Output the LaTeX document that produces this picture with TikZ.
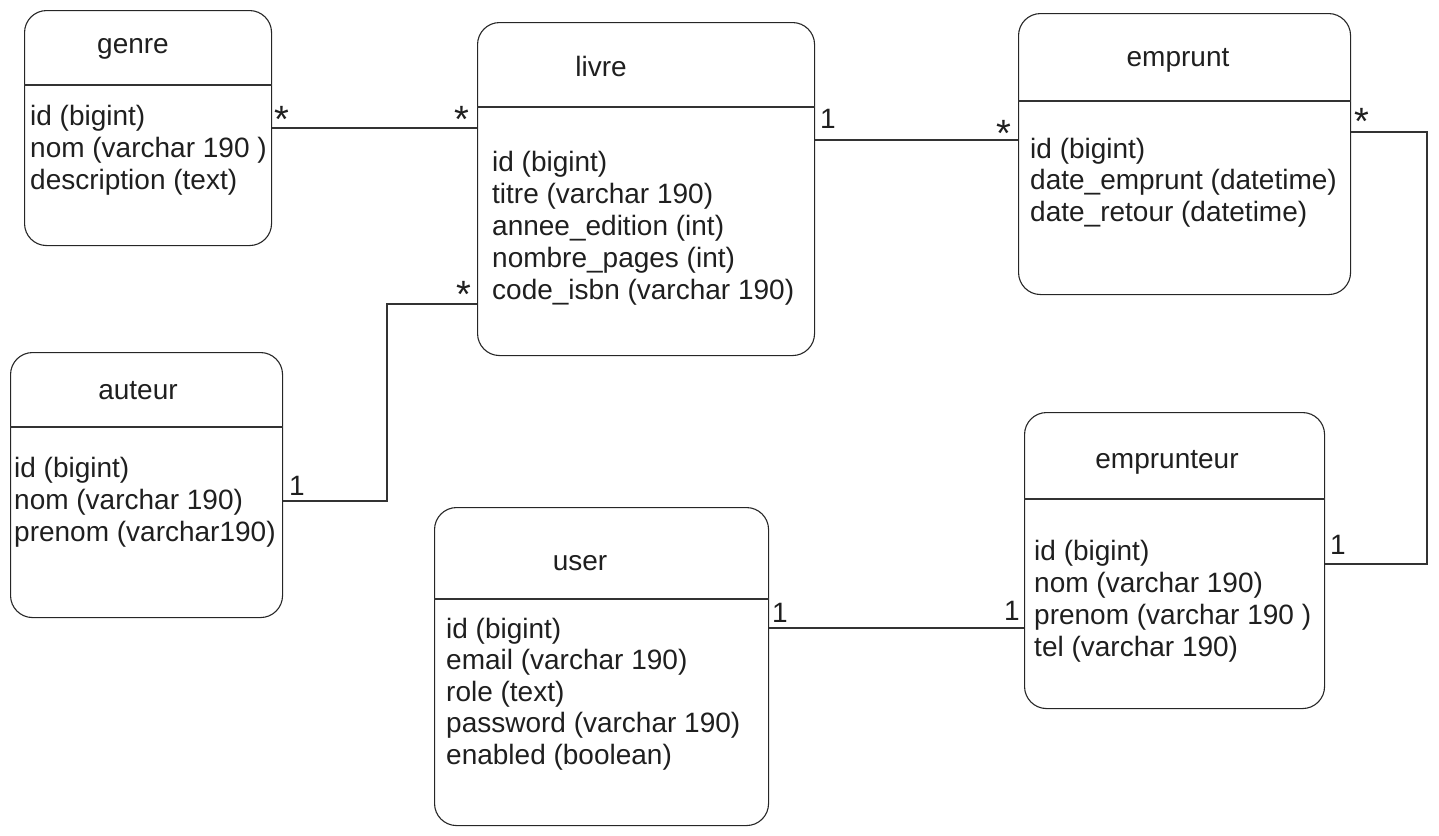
\documentclass[tikz,border=0pt]{standalone}
\usepackage{fontspec}
\setmainfont{Liberation Sans}
\usepackage{tikz}

\begin{document}
\begin{tikzpicture}[x=1pt,y=-1pt]
\tikzstyle{every node}+=[inner sep=0pt, font=\fontsize{28}{32}\selectfont, text=black!88]
\tikzstyle{entity}=[draw=black!85, line width=1.1pt, rounded corners=22pt, anchor=north west]
\tikzstyle{attr}=[anchor=base west]
\tikzstyle{title}=[anchor=base]
\tikzstyle{many}=[anchor=base, font=\fontsize{38}{40}\selectfont]
\tikzstyle{link}=[draw=black!80, line width=1.1pt]
\useasboundingbox (0,0) rectangle (1439,835);
\node[entity, minimum width=247pt, minimum height=235pt] (genre) at (24,10) {};
\node[entity, minimum width=337pt, minimum height=333pt] (livre) at (477,22) {};
\node[entity, minimum width=332pt, minimum height=281pt] (emprunt) at (1018,13) {};
\node[entity, minimum width=272pt, minimum height=265pt] (auteur) at (10,352) {};
\node[entity, minimum width=300pt, minimum height=296pt] (emprunteur) at (1024,412) {};
\node[entity, minimum width=334pt, minimum height=318pt] (user) at (434,507) {};
\draw[link] (genre.west |- 0,85) -- (genre.east |- 0,85);
\draw[link] (livre.west |- 0,107) -- (livre.east |- 0,107);
\draw[link] (emprunt.west |- 0,101) -- (emprunt.east |- 0,101);
\draw[link] (auteur.west |- 0,427) -- (auteur.east |- 0,427);
\draw[link] (emprunteur.west |- 0,499) -- (emprunteur.east |- 0,499);
\draw[link] (user.west |- 0,599) -- (user.east |- 0,599);
\node[title] (genre-t) at (133,53) {genre};
\node[title] (livre-t) at (601,76) {livre};
\node[title] (emprunt-t) at (1178,66) {emprunt};
\node[title] (auteur-t) at (138,399) {auteur};
\node[title] (emprunteur-t) at (1167,468) {emprunteur};
\node[title] (user-t) at (580,570) {user};
\foreach \t [count=\i] in {id (bigint), nom (varchar 190 ), description (text)}
  \node[attr] (genre-\i) at (30,{125+32*(\i-1)}) {\t};
\foreach \t [count=\i] in {id (bigint), titre (varchar 190), annee\_edition (int), nombre\_pages (int), code\_isbn (varchar 190)}
  \node[attr] (livre-\i) at (492,{171+32*(\i-1)}) {\t};
\foreach \t [count=\i] in {id (bigint), date\_emprunt (datetime), date\_retour (datetime)}
  \node[attr] (emprunt-\i) at (1030,{158+31.5*(\i-1)}) {\t};
\foreach \t [count=\i] in {id (bigint), nom (varchar 190), prenom (varchar190)}
  \node[attr] (auteur-\i) at (14,{477+32*(\i-1)}) {\t};
\foreach \t [count=\i] in {id (bigint), nom (varchar 190), prenom (varchar 190 ), tel (varchar 190)}
  \node[attr] (emprunteur-\i) at (1034,{560+32*(\i-1)}) {\t};
\foreach \t [count=\i] in {id (bigint), email (varchar 190), role (text), password (varchar 190), enabled (boolean)}
  \node[attr] (user-\i) at (446,{638+31.6*(\i-1)}) {\t};
\coordinate (b1) at (387,501);
\coordinate (b2) at (1427,132);
\draw[link] (genre.east |- 0,128) -- (livre.west |- 0,128);
\draw[link] (livre.east |- 0,140) -- (emprunt.west |- 0,140);
\draw[link] (auteur.east |- b1) -- (b1) -- (b1 |- 0,304) -- (livre.west |- 0,304);
\draw[link] (emprunt.east |- b2) -- (b2) -- (b2 |- 0,564) -- (emprunteur.east |- 0,564);
\draw[link] (user.east |- 0,628) -- (emprunteur.west |- 0,628);
\node[many] (m1) at (282,132) {*};
\node[many] (m2) at (462,132) {*};
\node[title] (m3) at (828,128) {1};
\node[many] (m4) at (1004,146) {*};
\node[title] (m5) at (297,495) {1};
\node[many] (m6) at (464,307) {*};
\node[many] (m7) at (1362,134) {*};
\node[title] (m8) at (1338,554) {1};
\node[title] (m9) at (780,622) {1};
\node[title] (m10) at (1012,620) {1};
\end{tikzpicture}
\end{document}
